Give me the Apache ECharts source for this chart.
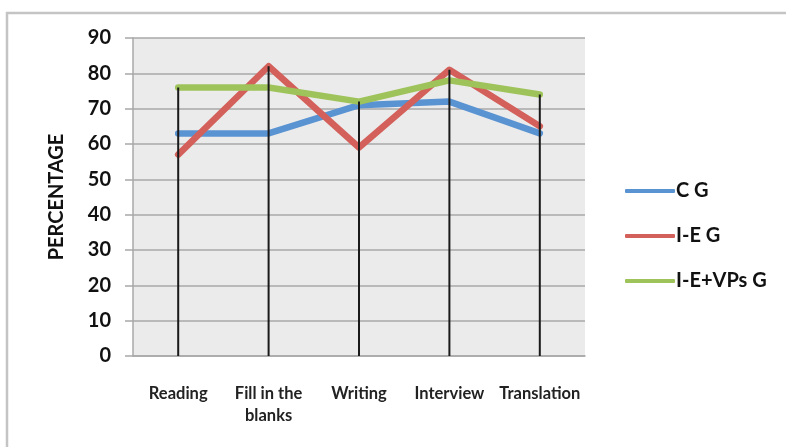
<!DOCTYPE html>
<html>
<head>
<meta charset="utf-8">
<script src="https://cdn.jsdelivr.net/npm/echarts@6/dist/echarts.min.js"></script>
<style>
  html, body { margin: 0; padding: 0; background: #fff; }
  #chart { width: 786px; height: 447px; }
</style>
</head>
<body>
<div id="chart"></div>
<script>
    var categories = ['Reading', 'Fill in the\nblanks', 'Writing', 'Interview', 'Translation'];
    var cG = [63, 63, 71, 72, 63];
    var ieG = [57, 82, 59, 81, 65];
    var ieVpsG = [76, 76, 72, 78, 74];
    var yTicks = [0, 10, 20, 30, 40, 50, 60, 70, 80, 90];

    // drop lines go from the highest point of each category down to the axis
    var dropTops = categories.map(function (c, i) {
        return Math.max(cG[i], ieG[i], ieVpsG[i]);
    });

    var font = 'Lato, "Open Sans", sans-serif';

    function lineSeries(name, data, color) {
        return {
            name: name,
            type: 'line',
            data: data,
            symbol: 'none',
            z: 2,
            itemStyle: { color: color },
            lineStyle: { color: color, width: 6.5, cap: 'round', join: 'round' }
        };
    }

    var chart = echarts.init(document.getElementById('chart'));
    chart.setOption({
        animation: false,
        backgroundColor: '#ffffff',
        graphic: [{
            type: 'rect',
            shape: { x: 7, y: 13, width: 820, height: 460 },
            style: { fill: 'none', stroke: '#c4c4c4', lineWidth: 2.5 },
            silent: true
        }],
        grid: {
            left: 133, right: 201, top: 38, bottom: 91,
            show: true,
            backgroundColor: '#ebebeb',
            borderWidth: 0
        },
        legend: {
            orient: 'vertical',
            left: 620,
            top: 176,
            data: ['C G', 'I-E G', 'I-E+VPs G'],
            icon: 'roundRect',
            itemWidth: 50,
            itemHeight: 4,
            itemGap: 25,
            textStyle: {
                fontFamily: font, fontWeight: 'bold', fontSize: 20,
                color: '#111', padding: [0, 0, 0, -4], lineHeight: 20
            }
        },
        xAxis: {
            type: 'category',
            data: categories,
            boundaryGap: true,
            axisLine: { lineStyle: { color: '#a8a8a8', width: 1.5 } },
            axisTick: { show: false },
            axisLabel: {
                interval: 0,
                margin: 27,
                fontFamily: font, fontWeight: 'bold', fontSize: 16.5,
                lineHeight: 22, color: '#222'
            }
        },
        yAxis: {
            type: 'value',
            min: yTicks[0],
            max: yTicks[yTicks.length - 1],
            interval: 10,
            name: 'PERCENTAGE',
            nameLocation: 'middle',
            nameGap: 66,
            nameTextStyle: {
                fontFamily: font, fontWeight: 'bold', fontSize: 20, color: '#111'
            },
            axisLine: { show: true, lineStyle: { color: '#a8a8a8', width: 1.5 } },
            axisTick: { show: true, length: 8, lineStyle: { color: '#a8a8a8', width: 1.5 } },
            splitLine: { lineStyle: { color: '#a8a8a8', width: 1.5 } },
            axisLabel: {
                margin: 22,
                fontFamily: font, fontWeight: 'bold', fontSize: 20, color: '#111'
            }
        },
        series: [
            lineSeries('C G', cG, '#5a93d2'),
            lineSeries('I-E G', ieG, '#d3605a'),
            lineSeries('I-E+VPs G', ieVpsG, '#9fc35b'),
            {
                type: 'bar',
                data: dropTops,
                barWidth: 2,
                z: 5,
                silent: true,
                itemStyle: { color: '#1a1a1a' }
            }
        ]
    });
</script>
</body>
</html>
